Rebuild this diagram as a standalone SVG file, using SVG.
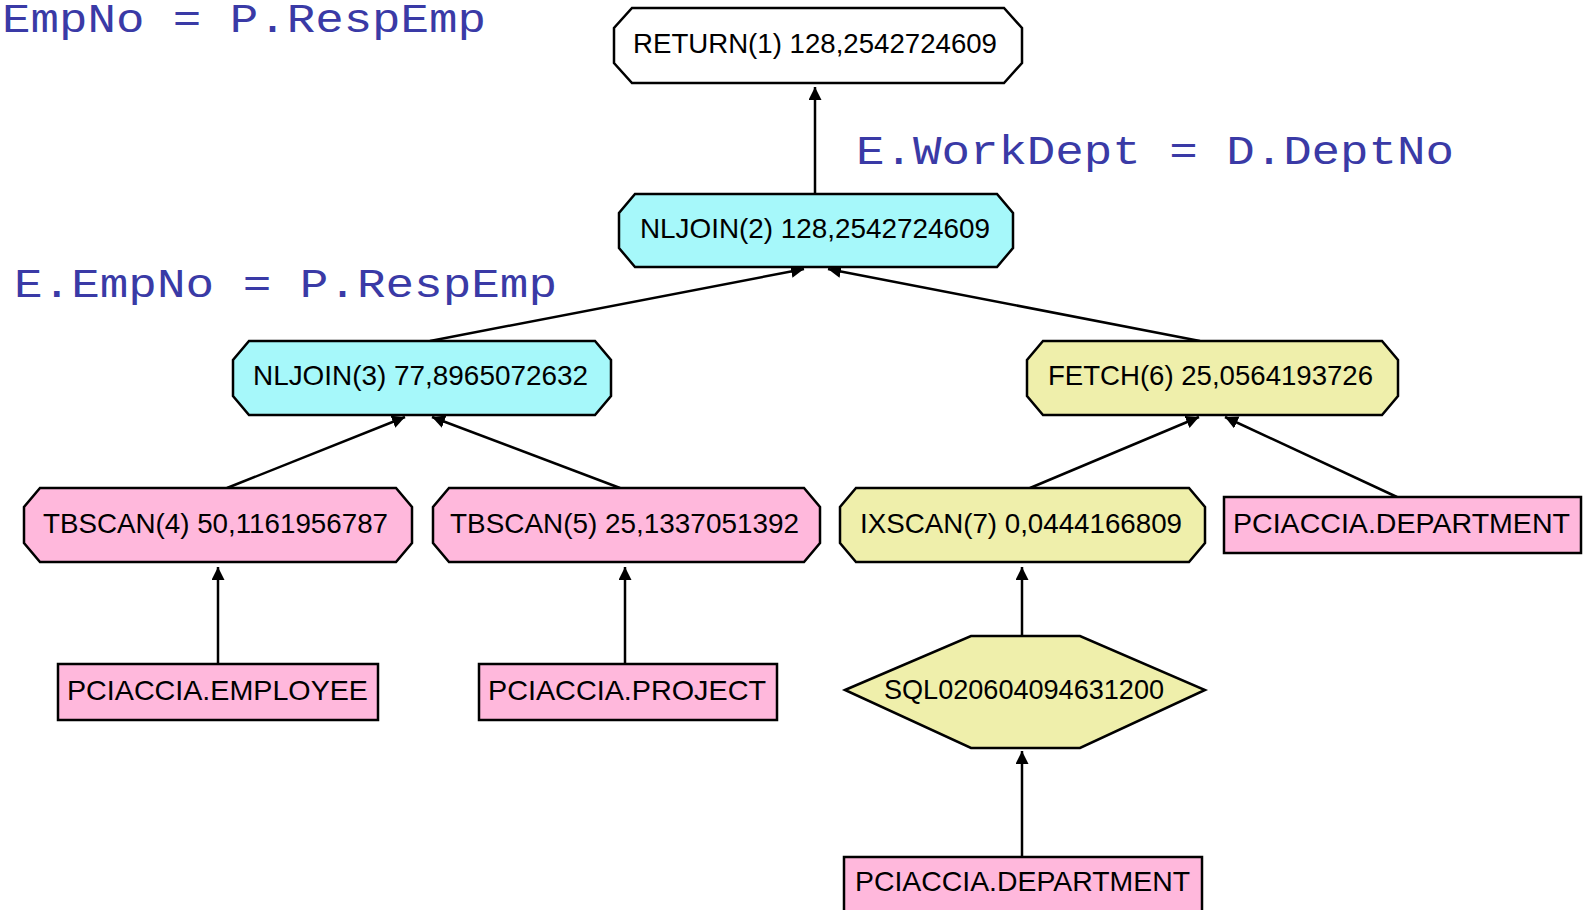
<svg xmlns="http://www.w3.org/2000/svg" width="1587" height="910" viewBox="0 0 1587 910">
  <style>
    .node { stroke: #000; stroke-width: 2.5; }
    .op-cyan { fill: #a6f8fa; }
    .op-yellow { fill: #efefab; }
    .op-pink { fill: #ffb8dc; }
    .op-white { fill: #fff; }
    .lbl { font-family: "Liberation Sans", Arial, sans-serif; font-size: 28px; fill: #000; }
    .pred { font-family: "Liberation Mono", "Courier New", monospace; font-size: 40px; fill: #3a3aa6; }
    .edge { stroke: #000; stroke-width: 2.5; fill: none; marker-end: url(#arrow); }
  </style>
  <defs>
    <marker id="arrow" markerWidth="16" markerHeight="14" refX="13" refY="6.5" orient="auto" markerUnits="userSpaceOnUse">
      <path d="M0,0 L13,6.5 L0,13 Z" fill="#000"/>
    </marker>
  </defs>
  <rect width="1587" height="910" fill="#fff"/>

  <!-- join predicates -->
  <g id="predicates">
    <text class="pred" x="2" y="32" textLength="484" lengthAdjust="spacingAndGlyphs">EmpNo = P.RespEmp</text>
    <text class="pred" x="14" y="297" textLength="543" lengthAdjust="spacingAndGlyphs">E.EmpNo = P.RespEmp</text>
    <text class="pred" x="856" y="164" textLength="598" lengthAdjust="spacingAndGlyphs">E.WorkDept = D.DeptNo</text>
  </g>

  <!-- plan edges: child to parent -->
  <g id="connectors">
    <line class="edge" x1="815" y1="194" x2="815" y2="87"/>
    <line class="edge" x1="430" y1="341" x2="804" y2="269"/>
    <line class="edge" x1="1200" y1="341" x2="828" y2="269"/>
    <line class="edge" x1="227" y1="488" x2="405" y2="417"/>
    <line class="edge" x1="620" y1="488" x2="432" y2="417"/>
    <line class="edge" x1="1030" y1="488" x2="1199" y2="417"/>
    <line class="edge" x1="1397" y1="497" x2="1225" y2="417"/>
    <line class="edge" x1="218" y1="664" x2="218" y2="567"/>
    <line class="edge" x1="625" y1="664" x2="625" y2="567"/>
    <line class="edge" x1="1022" y1="636" x2="1022" y2="567"/>
    <line class="edge" x1="1022" y1="857" x2="1022" y2="751"/>
  </g>

  <g id="return1">
    <polygon class="node op-white" points="632,8 1004,8 1022,28 1022,63 1004,83 632,83 614,63 614,28"/>
    <text class="lbl" x="633" y="53" textLength="364" lengthAdjust="spacingAndGlyphs">RETURN(1) 128,2542724609</text>
  </g>

  <g id="nljoin2">
    <polygon class="node op-cyan" points="635,194 997,194 1013,213 1013,248 997,267 635,267 619,248 619,213"/>
    <text class="lbl" x="640" y="238" textLength="350" lengthAdjust="spacingAndGlyphs">NLJOIN(2) 128,2542724609</text>
  </g>

  <g id="nljoin3">
    <polygon class="node op-cyan" points="249,341 595,341 611,360 611,396 595,415 249,415 233,396 233,360"/>
    <text class="lbl" x="253" y="385" textLength="335" lengthAdjust="spacingAndGlyphs">NLJOIN(3) 77,8965072632</text>
  </g>

  <g id="fetch6">
    <polygon class="node op-yellow" points="1043,341 1382,341 1398,360 1398,396 1382,415 1043,415 1027,396 1027,360"/>
    <text class="lbl" x="1048" y="385" textLength="325" lengthAdjust="spacingAndGlyphs">FETCH(6) 25,0564193726</text>
  </g>

  <g id="tbscan4">
    <polygon class="node op-pink" points="40,488 396,488 412,507 412,543 396,562 40,562 24,543 24,507"/>
    <text class="lbl" x="43" y="533" textLength="345" lengthAdjust="spacingAndGlyphs">TBSCAN(4) 50,1161956787</text>
  </g>

  <g id="tbscan5">
    <polygon class="node op-pink" points="449,488 804,488 820,507 820,543 804,562 449,562 433,543 433,507"/>
    <text class="lbl" x="450" y="533" textLength="349" lengthAdjust="spacingAndGlyphs">TBSCAN(5) 25,1337051392</text>
  </g>

  <g id="ixscan7">
    <polygon class="node op-yellow" points="856,488 1189,488 1205,507 1205,543 1189,562 856,562 840,543 840,507"/>
    <text class="lbl" x="860" y="533" textLength="322" lengthAdjust="spacingAndGlyphs">IXSCAN(7) 0,0444166809</text>
  </g>

  <g id="department-fetch">
    <rect class="node op-pink" x="1224" y="497" width="357" height="56"/>
    <text class="lbl" x="1233" y="533" textLength="337" lengthAdjust="spacingAndGlyphs">PCIACCIA.DEPARTMENT</text>
  </g>

  <g id="employee">
    <rect class="node op-pink" x="58" y="664" width="320" height="56"/>
    <text class="lbl" x="67" y="700" textLength="301" lengthAdjust="spacingAndGlyphs">PCIACCIA.EMPLOYEE</text>
  </g>

  <g id="project">
    <rect class="node op-pink" x="479" y="664" width="298" height="56"/>
    <text class="lbl" x="488" y="700" textLength="278" lengthAdjust="spacingAndGlyphs">PCIACCIA.PROJECT</text>
  </g>

  <g id="sql-index">
    <polygon class="node op-yellow" points="845,690 971,636 1080,636 1205,690 1080,748 971,748"/>
    <text class="lbl" x="884" y="699" textLength="280" lengthAdjust="spacingAndGlyphs">SQL020604094631200</text>
  </g>

  <g id="department-ixscan">
    <rect class="node op-pink" x="844" y="857" width="358" height="60"/>
    <text class="lbl" x="855" y="891" textLength="335" lengthAdjust="spacingAndGlyphs">PCIACCIA.DEPARTMENT</text>
  </g>
</svg>
